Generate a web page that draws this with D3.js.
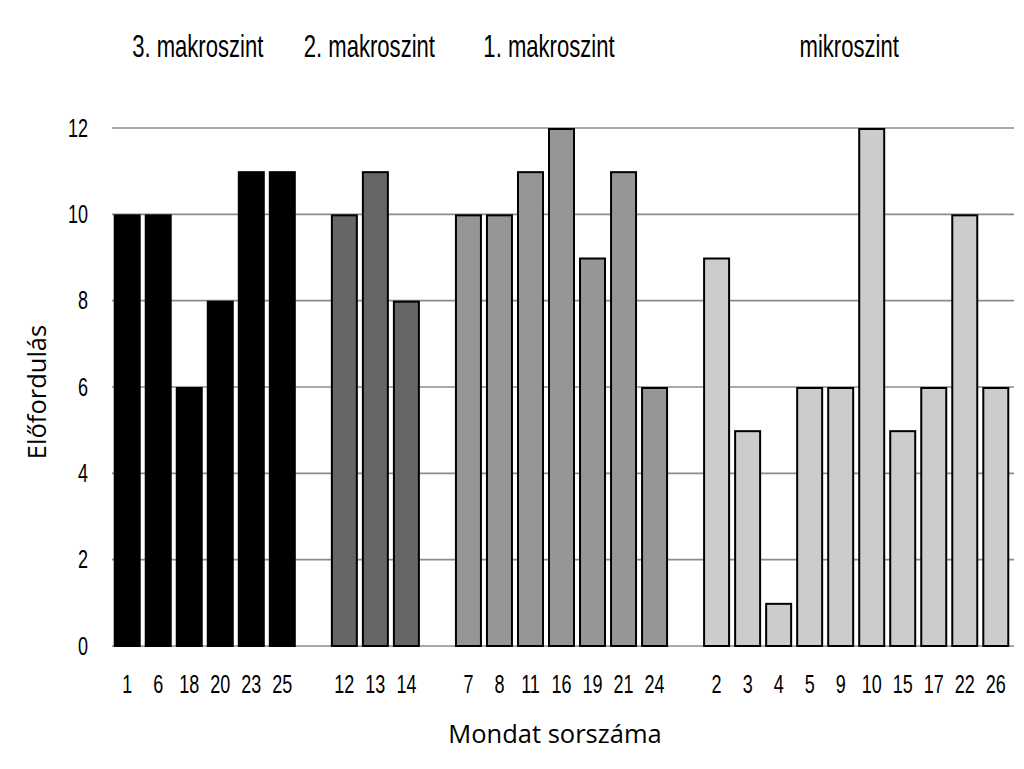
<!DOCTYPE html>
<html>
<head>
<meta charset="utf-8">
<script src="https://cdn.jsdelivr.net/npm/d3@7"></script>
<style>
  body { margin: 0; background: white; }
</style>
</head>
<body>
<div id="container"></div>
<script>
let w = 1024;
let h = 769;

// groups of sentences, in drawing order
let groups = ["3. makroszint", "2. makroszint", "1. makroszint", "mikroszint"];
let sentences = [
  ["1", "6", "18", "20", "23", "25"],
  ["12", "13", "14"],
  ["7", "8", "11", "16", "19", "21", "24"],
  ["2", "3", "4", "5", "9", "10", "15", "17", "22", "26"]
];
let counts = [
  [10, 10, 6, 8, 11, 11],
  [10, 11, 8],
  [10, 10, 11, 12, 9, 11, 6],
  [9, 5, 1, 6, 6, 12, 5, 6, 10, 6]
];
let fills = ["#000000", "#666666", "#969696", "#cccccc"];
let yTicks = [0, 2, 4, 6, 8, 10, 12];

// no condensed font installed, so squeeze a plain one horizontally
let narrow = "'Liberation Sans', Arial, sans-serif";
let squeeze = "scale(0.72,1)";
let regular = "'Open Sans', 'Noto Sans', sans-serif";

// flatten into slots, with an empty slot between groups
let slots = [];
let bars = [];
groups.forEach(function(g, gi){
  if (gi > 0) slots.push("gap" + gi);
  sentences[gi].forEach(function(s, si){
    let key = g + "|" + s;
    slots.push(key);
    bars.push({key: key, label: s, value: counts[gi][si], group: gi});
  });
});

let viz = d3.select("#container")
  .append("svg")
    .attr("width", w)
    .attr("height", h)
    .style("background-color", "white")
;

let x = d3.scaleBand()
    .domain(slots)
    .range([111.7, 1011.3])
    .paddingInner(0.13)
    .paddingOuter(0.065)
;

let y = d3.scaleLinear()
    .domain([0, 12])
    .range([646, 128])
;

// gridlines
viz.append("g")
    .selectAll("line")
    .data(yTicks)
    .enter()
    .append("line")
      .attr("x1", 112)
      .attr("x2", 1014)
      .attr("y1", d => y(d))
      .attr("y2", d => y(d))
      .style("stroke", "#8c8c8c")
      .style("stroke-width", 1.6)
;

// y tick labels
let yAxis = viz.append("g")
    .attr("transform", "translate(88,0)")
    .call(d3.axisLeft(y).tickValues(yTicks).tickSize(0).tickPadding(0))
;
yAxis.select(".domain").remove();
yAxis.selectAll("text")
    .attr("transform", squeeze)
    .style("font-size", "25px")
    .style("font-family", narrow)
    .attr("fill", "black")
;

// bars
viz.append("g")
    .selectAll("rect")
    .data(bars)
    .enter()
    .append("rect")
      .attr("x", d => x(d.key) + 1)
      .attr("y", d => y(d.value) + 1)
      .attr("width", x.bandwidth() - 2)
      .attr("height", d => y(0) - y(d.value) - 1)
      .attr("fill", d => fills[d.group])
      .style("stroke", "black")
      .style("stroke-width", 2)
;

// x tick labels
let xAxis = viz.append("g")
    .attr("transform", "translate(0,647)")
    .call(d3.axisBottom(x)
      .tickSize(0)
      .tickPadding(28)
      .tickFormat(d => d.startsWith("gap") ? "" : d.split("|")[1]))
;
xAxis.select(".domain").remove();
xAxis.selectAll("text")
    .attr("transform", squeeze)
    .style("font-size", "25px")
    .style("font-family", narrow)
    .attr("fill", "black")
;

// group labels above the bars
let labelShift = [-7, -6, -12.5, -7];
viz.append("g")
    .selectAll("text")
    .data(groups)
    .enter()
    .append("text")
      .text(d => d)
      .attr("transform", function(d, i){
        let first = x(d + "|" + sentences[i][0]);
        let last = x(d + "|" + sentences[i][sentences[i].length - 1]) + x.bandwidth();
        let cx = (first + last) / 2 + labelShift[i];
        return "translate(" + cx + ",57) scale(0.69,1)";
      })
      .attr("text-anchor", "middle")
      .style("font-size", "32px")
      .style("font-family", narrow)
      .attr("fill", "black")
;

// axis titles
viz.append("text")
    .text("Mondat sorszáma")
    .attr("x", 555)
    .attr("y", 743)
    .attr("text-anchor", "middle")
    .style("font-size", "25.5px")
    .style("font-family", regular)
    .attr("fill", "black")
;

viz.append("text")
    .text("Előfordulás")
    .attr("transform", "translate(46,392) rotate(-90)")
    .attr("text-anchor", "middle")
    .style("font-size", "25.5px")
    .style("font-family", regular)
    .attr("fill", "black")
;
</script>
</body>
</html>
